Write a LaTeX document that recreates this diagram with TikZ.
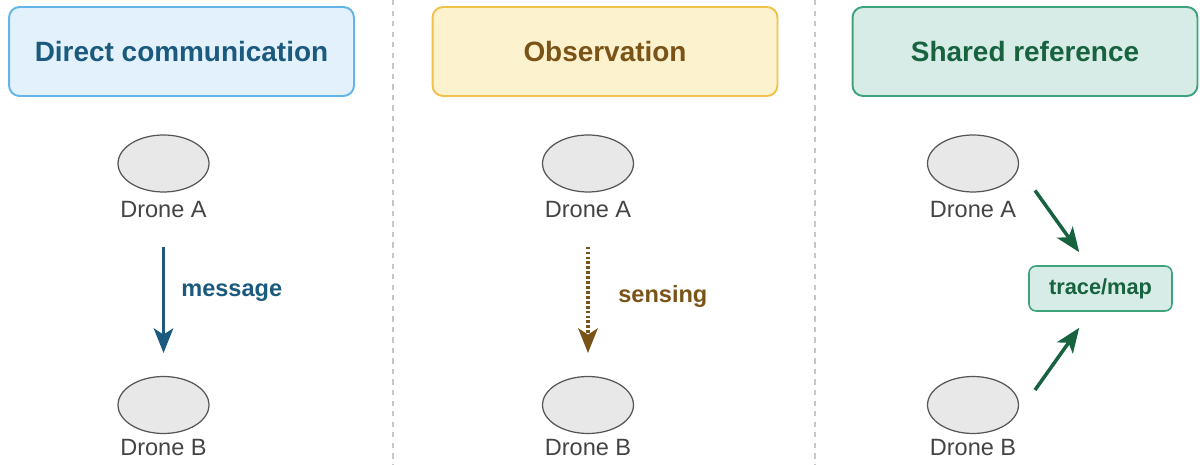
\documentclass[tikz,border=0pt]{standalone}
\usepackage{fontspec}
\setmainfont{Liberation Sans}
\usetikzlibrary{shapes.geometric,arrows.meta,calc,positioning}
\definecolor{dcfill}{HTML}{E2F1FB}
\definecolor{dcline}{HTML}{62B5E6}
\definecolor{dctext}{HTML}{1B5A7E}
\definecolor{obfill}{HTML}{FDF2CE}
\definecolor{obline}{HTML}{F0C24A}
\definecolor{obtext}{HTML}{7A5317}
\definecolor{srfill}{HTML}{D7ECE7}
\definecolor{srline}{HTML}{3DA37A}
\definecolor{srtext}{HTML}{17623F}
\definecolor{dronefill}{HTML}{E8E8E8}
\definecolor{droneline}{HTML}{555555}
\definecolor{labtext}{HTML}{444444}

\begin{document}
\begin{tikzpicture}[x=0.02cm,y=-0.02cm,
    titlebox/.style={draw,rounded corners=6pt,line width=1.1pt,minimum width=6.9cm,
        minimum height=1.78cm,font=\fontsize{15.9}{19}\selectfont\bfseries},
    drone/.style={ellipse,draw=droneline,fill=dronefill,line width=0.7pt,
        minimum width=1.82cm,minimum height=1.14cm,inner sep=0pt},
    dronelbl/.style={text=labtext,font=\fontsize{13.4}{16}\selectfont,inner sep=1pt},
    arrlbl/.style={anchor=west,font=\fontsize{13.4}{16}\selectfont\bfseries,inner sep=0pt},
    tip/.style={-{Stealth[length=14pt,width=11pt,inset=3.5pt]}}]
    \useasboundingbox (0,0) rectangle (1200,465);
    % column dividers
    \draw[gray!45,line width=0.6pt,dash pattern=on 3pt off 3pt] (393,0) -- (393,465);
    \draw[gray!45,line width=0.6pt,dash pattern=on 3pt off 3pt] (815,0) -- (815,465);

    \node[titlebox,fill=dcfill,draw=dcline,text=dctext] (dc) at (181.5,51.5) {Direct communication};
    \node[titlebox,fill=obfill,draw=obline,text=obtext] (ob) at (605,51.5) {Observation};
    \node[titlebox,fill=srfill,draw=srline,text=srtext] (sr) at (1025,51.5) {Shared reference};

    % direct communication
    \node[drone] (droneA1) at (163.5,163.5) {};
    \node[dronelbl] (labA1) at (163.5,210) {Drone A};
    \node[drone] (droneB1) at (163.5,405) {};
    \node[dronelbl] (labB1) at (163.5,448) {Drone B};
    \draw[tip,dctext,line width=2pt,shorten <=15pt,shorten >=13pt] (labA1) -- (droneB1);
    \node[arrlbl,text=dctext] (msg) at (181,293) {message};

    % observation
    \node[drone] (droneA2) at (588,163.5) {};
    \node[dronelbl] (labA2) at (588,210) {Drone A};
    \node[drone] (droneB2) at (588,405) {};
    \node[dronelbl] (labB2) at (588,448) {Drone B};
    \draw[tip,obtext,line width=2pt,dash pattern=on 1.6pt off 1.2pt,shorten <=15pt,shorten >=13pt] (labA2) -- (droneB2);
    \node[arrlbl,text=obtext] (sens) at (618,296) {sensing};

    % shared reference
    \node[drone] (droneA3) at (973,163.5) {};
    \node[dronelbl] (labA3) at (973,210) {Drone A};
    \node[drone] (droneB3) at (973,405) {};
    \node[dronelbl] (labB3) at (973,448) {Drone B};
    \node[draw=srline,fill=srfill,text=srtext,rounded corners=4pt,line width=0.9pt,
        minimum width=2.86cm,minimum height=0.9cm,font=\fontsize{12.4}{15}\selectfont\bfseries] (trace) at (1100.5,288.5) {trace/map};
    \coordinate (a3out) at ($(droneA3)+(62,27)$);
    \coordinate (t3top) at ($(trace.north west)+(51,-13)$);
    \coordinate (b3out) at ($(droneB3)+(62,-15)$);
    \coordinate (t3bot) at ($(trace.south west)+(51,16)$);
    \draw[tip,srtext,line width=2pt] (a3out) -- (t3top);
    \draw[tip,srtext,line width=2pt] (b3out) -- (t3bot);
\end{tikzpicture}
\end{document}
